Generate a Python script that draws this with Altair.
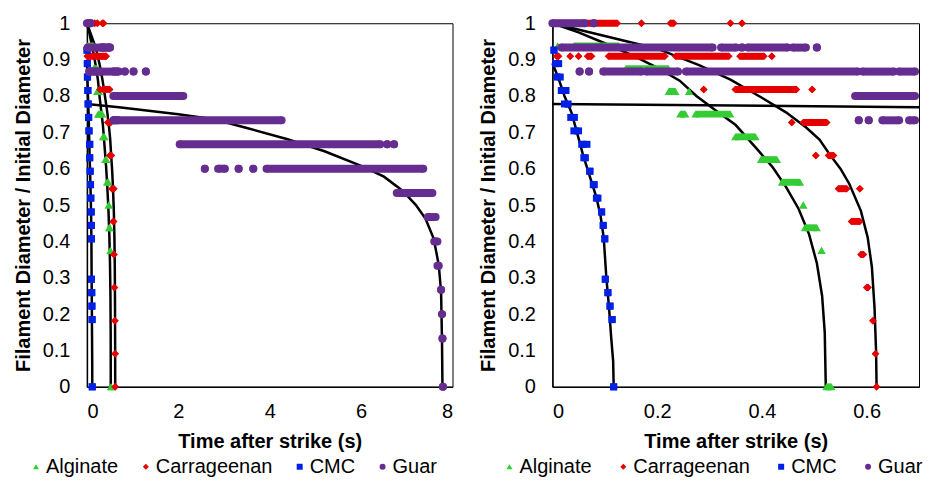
import altair as alt
import pandas as pd

series_names = ["Alginate", "Carrageenan", "CMC", "Guar"]
series_colors = ["#33CC33", "#E60000", "#0020E6", "#662D91"]
series_shapes = ["triangle-up", "diamond", "square", "circle"]

# ---- measured data: each entry is a run of markers at one diameter level (start time, end time)
alg_y = [0.9375, 0.9375, 0.9375, 0.875, 0.8125, 0.8125, 0.75, 0.75, 0.6875, 0.625, 0.5625, 0.5, 0.4375, 0.375, 0.0]
alg_t0 = [0.01, 0.041, 0.15, 0.14, 0.222, 0.261, 0.244, 0.273, 0.349, 0.398, 0.438, 0.479, 0.482, 0.514, 0.523]
alg_t1 = [0.01, 0.127, 0.15, 0.222, 0.235, 0.261, 0.254, 0.34, 0.388, 0.429, 0.473, 0.479, 0.505, 0.514, 0.533]

car_y = [1.0, 1.0, 1.0, 1.0, 1.0,
         0.909, 0.909, 0.909, 0.909, 0.909, 0.909, 0.909, 0.909,
         0.818, 0.818, 0.818, 0.727, 0.727, 0.636, 0.636, 0.545, 0.545,
         0.455, 0.364, 0.273, 0.182, 0.091, 0.0]
car_t0 = [0.0, 0.17, 0.225, 0.34, 0.362,
          0.008, 0.034, 0.05, 0.067, 0.107, 0.235, 0.358, 0.419,
          0.289, 0.349, 0.496, 0.457, 0.479, 0.503, 0.527, 0.546, 0.587,
          0.571, 0.589, 0.6, 0.612, 0.617, 0.619]
car_t1 = [0.124, 0.17, 0.232, 0.34, 0.362,
          0.012, 0.034, 0.05, 0.075, 0.215, 0.337, 0.404, 0.419,
          0.289, 0.466, 0.496, 0.457, 0.524, 0.503, 0.537, 0.562, 0.587,
          0.587, 0.594, 0.603, 0.612, 0.617, 0.619]

cmc_y = [0.926, 0.889, 0.852, 0.815, 0.778, 0.741, 0.704, 0.667, 0.630, 0.593,
         0.556, 0.519, 0.481, 0.444, 0.407, 0.296, 0.259, 0.222, 0.185, 0.0]
cmc_t0 = [0.003, 0.006, 0.009, 0.017, 0.023, 0.035, 0.041, 0.056, 0.06, 0.071,
          0.078, 0.084, 0.094, 0.097, 0.1, 0.101, 0.106, 0.11, 0.114, 0.117]
cmc_t1 = [0.003, 0.012, 0.015, 0.026, 0.03, 0.042, 0.05, 0.066, 0.063, 0.072,
          0.08, 0.087, 0.094, 0.097, 0.1, 0.101, 0.106, 0.11, 0.114, 0.117]

guar_y = [1.0, 1.0,
          0.933, 0.933, 0.933, 0.933, 0.933, 0.933,
          0.867, 0.867, 0.867, 0.867, 0.867, 0.867, 0.867, 0.867, 0.867, 0.867,
          0.8,
          0.733, 0.733, 0.733, 0.733,
          0.667, 0.667, 0.667,
          0.6, 0.6, 0.6, 0.6, 0.6,
          0.533, 0.467, 0.4, 0.333, 0.267, 0.2, 0.133, 0.0]
guar_t0 = [0.0, 0.079,
           0.017, 0.322, 0.362, 0.373, 0.459, 0.505,
           0.052, 0.07, 0.097, 0.179, 0.255, 0.592, 0.662, 0.83, 1.02, 1.29,
           0.578,
           0.585, 0.604, 0.63, 0.681,
           2.03, 6.57, 6.72,
           2.58, 2.87, 3.32, 3.64, 3.93,
           6.78, 7.46, 7.6, 7.67, 7.75, 7.77, 7.78, 7.79]
guar_t1 = [0.062, 0.079,
           0.306, 0.351, 0.362, 0.449, 0.484, 0.505,
           0.052, 0.07, 0.17, 0.24, 0.583, 0.652, 0.7, 0.83, 1.02, 1.29,
           2.11,
           0.585, 0.604, 0.662, 4.26,
           6.42, 6.57, 6.72,
           2.58, 3.02, 3.32, 3.64, 7.36,
           7.56, 7.63, 7.67, 7.7, 7.75, 7.77, 7.78, 7.79]

# ---- fitted curves
fit_alg_t = [0, 0.05, 0.1, 0.154, 0.2, 0.243, 0.275, 0.31, 0.35, 0.39, 0.42, 0.446, 0.47, 0.49, 0.505, 0.515, 0.52, 0.522]
fit_alg_y = [1.0, 0.975, 0.945, 0.911, 0.878, 0.842, 0.8, 0.762, 0.72, 0.655, 0.605, 0.55, 0.49, 0.42, 0.34, 0.25, 0.15, 0.0]
fit_car_t = [0, 0.1, 0.2, 0.28, 0.34, 0.4, 0.446, 0.484, 0.51, 0.529, 0.55, 0.567, 0.589, 0.602, 0.61, 0.615, 0.618, 0.619]
fit_car_y = [1.0, 0.965, 0.93, 0.885, 0.845, 0.795, 0.755, 0.714, 0.68, 0.64, 0.6, 0.558, 0.484, 0.411, 0.33, 0.22, 0.1, 0.0]
fit_cmc_t = [0, 0.01, 0.023, 0.036, 0.045, 0.058, 0.07, 0.084, 0.092, 0.098, 0.103, 0.108, 0.112, 0.116, 0.117]
fit_cmc_y = [0.89, 0.855, 0.8, 0.756, 0.71, 0.64, 0.585, 0.521, 0.47, 0.41, 0.3, 0.22, 0.14, 0.07, 0.0]
fit_guar_t = [0, 0.7, 2.0, 2.78, 3.5, 4.39, 5.2, 6.0, 6.5, 6.9, 7.2, 7.41, 7.59, 7.7, 7.75, 7.77, 7.78]
fit_guar_y = [0.778, 0.769, 0.75, 0.736, 0.712, 0.681, 0.648, 0.608, 0.578, 0.54, 0.5, 0.462, 0.407, 0.334, 0.261, 0.124, 0.0]

y_ticks = [0, 0.1, 0.2, 0.3, 0.4, 0.5, 0.6, 0.7, 0.8, 0.9, 1]
left_x_ticks = [0, 2, 4, 6, 8]
right_x_ticks = [0, 0.2, 0.4, 0.6]

# ---- build tables
runs = pd.concat([
    pd.DataFrame({"series": "Alginate", "y": alg_y, "t0": alg_t0, "t1": alg_t1}),
    pd.DataFrame({"series": "Carrageenan", "y": car_y, "t0": car_t0, "t1": car_t1}),
    pd.DataFrame({"series": "CMC", "y": cmc_y, "t0": cmc_t0, "t1": cmc_t1}),
    pd.DataFrame({"series": "Guar", "y": guar_y, "t0": guar_t0, "t1": guar_t1}),
], ignore_index=True)

curves = pd.concat([
    pd.DataFrame({"series": "Alginate", "t": fit_alg_t, "y": fit_alg_y, "i": range(len(fit_alg_t))}),
    pd.DataFrame({"series": "Carrageenan", "t": fit_car_t, "y": fit_car_y, "i": range(len(fit_car_t))}),
    pd.DataFrame({"series": "CMC", "t": fit_cmc_t, "y": fit_cmc_y, "i": range(len(fit_cmc_t))}),
    pd.DataFrame({"series": "Guar", "t": fit_guar_t, "y": fit_guar_y, "i": range(len(fit_guar_t))}),
], ignore_index=True)

color_scale = alt.Scale(domain=series_names, range=series_colors)
shape_scale = alt.Scale(domain=series_names, range=series_shapes)
color_of = dict(zip(series_names, series_colors))

marker = {
    "Alginate": (64, 6.9),
    "Carrageenan": (56, 7.0),
    "CMC": (49, 7.0),
    "Guar": (64, 8.0),
}

FONT = "Liberation Sans"


def panel(xmax, xticks, width, height, legend_x, legend_y, col_pad):
    xs = alt.Scale(domain=[0, xmax], nice=False, zero=True, padding=0)
    ys = alt.Scale(domain=[0, 1], nice=False, padding=0)
    xaxis = alt.Axis(values=xticks, format="~g", title="Time after strike (s)", grid=False,
                     ticks=False, labelPadding=15, titlePadding=10,
                     labelFont=FONT, labelFontSize=20, labelColor="black",
                     titleFont=FONT, titleFontSize=20, titleFontWeight="bold", titleColor="black",
                     domainColor="black", domainWidth=1.5)
    yaxis = alt.Axis(values=y_ticks, format="~g", title="Filament Diameter / Initial Diameter",
                     grid=False, ticks=False, labelPadding=17, titlePadding=9,
                     labelFont=FONT, labelFontSize=20, labelColor="black",
                     titleFont=FONT, titleFontSize=20, titleFontWeight="bold", titleColor="black",
                     domainColor="black", domainWidth=1.5)
    legend = alt.Legend(orient="none", legendX=legend_x, legendY=legend_y, direction="horizontal",
                        title=None, labelFontSize=20, labelFont=FONT, labelColor="black",
                        symbolSize=36, labelOffset=0, columnPadding=col_pad, padding=0,
                        symbolStrokeWidth=0)
    edge = xmax - 4.0 * xmax / width

    curve_layer = alt.Chart(curves).transform_filter(
        alt.datum.t <= xmax + 1e-9
    ).mark_line(color="black", strokeWidth=2.5).encode(
        x=alt.X("t:Q", scale=xs, axis=xaxis),
        y=alt.Y("y:Q", scale=ys, axis=yaxis),
        detail="series:N",
        order="i:Q",
    )
    layers = [curve_layer]
    for name in series_names:
        size, thick = marker[name]
        base = alt.Chart(runs).transform_filter(
            (alt.datum.series == name) & (alt.datum.t0 <= xmax)
        ).transform_calculate(t1c=f"min(datum.t1, {edge})")
        rule = base.mark_rule(strokeWidth=thick, strokeCap="butt", color=color_of[name]).encode(
            x=alt.X("t0:Q", scale=xs, axis=xaxis),
            x2="t1c:Q",
            y=alt.Y("y:Q", scale=ys, axis=yaxis),
        )
        pts = base.transform_fold(["t0", "t1c"], as_=["end", "t"]).mark_point(
            filled=True, size=size, opacity=1, strokeWidth=0
        ).encode(
            x=alt.X("t:Q", scale=xs, axis=xaxis),
            y=alt.Y("y:Q", scale=ys, axis=yaxis),
            color=alt.Color("series:N", scale=color_scale, legend=legend),
            shape=alt.Shape("series:N", scale=shape_scale, legend=legend),
        )
        layers += [rule, pts]
    return alt.layer(*layers).properties(width=width, height=height)


left = panel(8, left_x_ticks, 366, 364, -61, 434, 17)
right = panel(0.7, right_x_ticks, 367, 364, -53, 434, 21)

chart = alt.hconcat(
    left, right, spacing=24, background="white",
    padding={"left": 4, "top": 4, "right": 0, "bottom": 0},
).resolve_legend(
    color="independent", shape="independent"
).configure_view(
    stroke="black", strokeWidth=1
)

chart.save("out.html", embed_options={"renderer": "svg", "actions": False})
